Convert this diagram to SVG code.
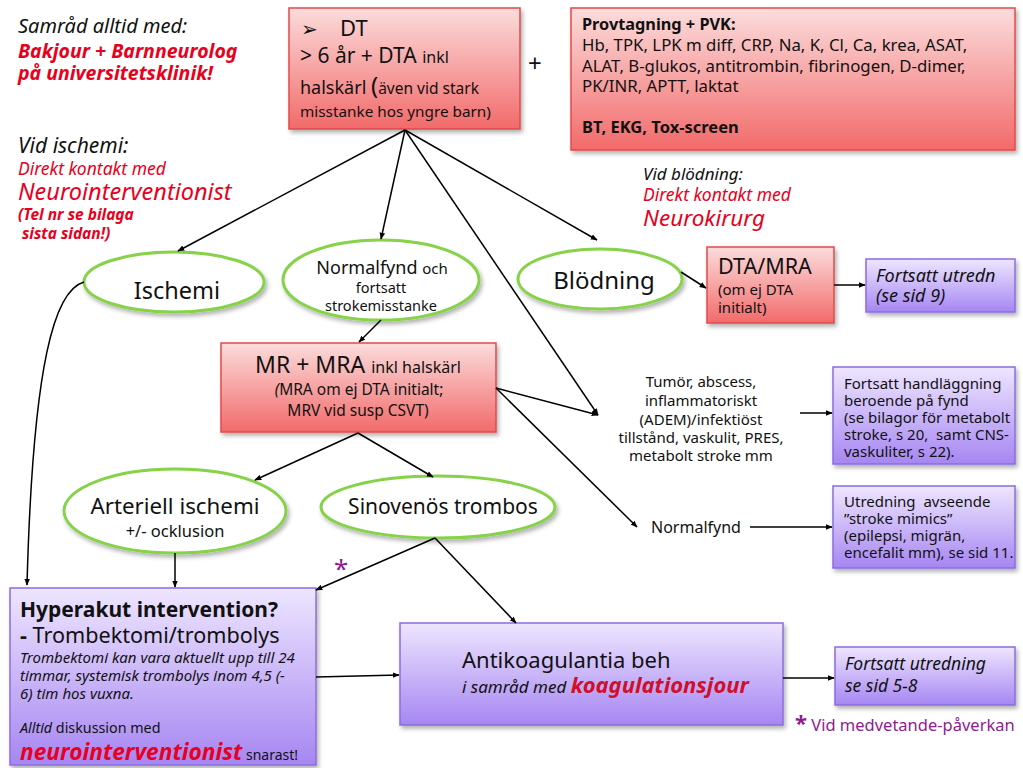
<svg xmlns="http://www.w3.org/2000/svg" width="1023" height="768" viewBox="0 0 1023 768">
<style>
text{font-family:"Noto Sans","DejaVu Sans",sans-serif;fill:#111}
.red{fill:#e8001c}
.it{font-style:italic}
.b{font-weight:bold}
.rbox{fill:url(#rg);stroke:#e2494a;stroke-width:1.5;filter:url(#sh)}
.pbox{fill:url(#pg);stroke:#8a6ce0;stroke-width:1.5;filter:url(#sh)}
.ell{fill:#fff;stroke:#86d24a;stroke-width:3;filter:url(#sh)}
.c line,.c path{stroke:#000;stroke-width:1.5;fill:none;marker-end:url(#ah)}
.mid{text-anchor:middle}
.pur{fill:#8e1b8e}
.bx{font-size:15px}
</style>
<defs>
<linearGradient id="rg" x1="0" y1="0" x2="0" y2="1"><stop offset="0" stop-color="#fcdcdc"/><stop offset="1" stop-color="#f26a6a"/></linearGradient>
<linearGradient id="pg" x1="0" y1="0" x2="0" y2="1"><stop offset="0" stop-color="#eee6ff"/><stop offset="1" stop-color="#a686f2"/></linearGradient>
<filter id="sh" x="-10%" y="-10%" width="125%" height="130%"><feDropShadow dx="2" dy="3" stdDeviation="2" flood-color="#000" flood-opacity="0.3"/></filter>
<marker id="ah" viewBox="0 0 10 10" refX="9" refY="5" markerWidth="7" markerHeight="7" orient="auto" markerUnits="userSpaceOnUse"><path d="M0,1 L10,5 L0,9 z" fill="#000"/></marker>
</defs>
<rect width="1023" height="768" fill="#fff"/>

<g id="notes-left">
<text x="18" y="33" class="it" font-size="20">Samråd alltid med:</text>
<text x="18" y="58" class="it b red" font-size="19.5">Bakjour + Barnneurolog</text>
<text x="18" y="80" class="it b red" font-size="19.5">på universitetsklinik!</text>
<text x="18" y="153" class="it" font-size="21">Vid ischemi:</text>
<text x="18" y="175" class="it red" font-size="17.5">Direkt kontakt med</text>
<text x="18" y="200" class="it red" font-size="23.5">Neurointerventionist</text>
<text x="18" y="220" class="it b red" font-size="15.5">(Tel nr se bilaga</text>
<text x="22" y="239" class="it b red" font-size="15.5">sista sidan!)</text>
</g>

<g id="node-dt">
<rect class="rbox" x="289" y="8" width="231" height="121"/>
<text x="301" y="36" font-size="20">➢</text>
<text x="340" y="36" font-size="22">DT</text>
<text x="300" y="63" font-size="21">&gt; 6 år + DTA <tspan font-size="16">inkl</tspan></text>
<text x="300" y="94" font-size="18">halskärl <tspan font-size="24">(</tspan><tspan font-size="15.5">även vid stark</tspan></text>
<text x="300" y="117" font-size="15.3">misstanke hos yngre barn)</text>
</g>

<text x="528" y="72" font-size="24">+</text>

<g id="node-prov">
<rect class="rbox" x="571" y="8" width="444" height="142"/>
<text x="582" y="30" font-size="16.3" class="b">Provtagning + PVK:</text>
<text x="582" y="51" font-size="16.8">Hb, TPK, LPK m diff, CRP, Na, K, Cl, Ca, krea, ASAT,</text>
<text x="582" y="72" font-size="16.8">ALAT, B-glukos, antitrombin, fibrinogen, D-dimer,</text>
<text x="582" y="92" font-size="16.8">PK/INR, APTT, laktat</text>
<text x="582" y="133" font-size="16.5" class="b">BT, EKG, Tox-screen</text>
</g>

<g id="notes-bleed">
<text x="643" y="180" class="it" font-size="17">Vid blödning:</text>
<text x="643" y="201" class="it red" font-size="17.5">Direkt kontakt med</text>
<text x="643" y="226" class="it red" font-size="22.5">Neurokirurg</text>
</g>

<g id="node-ischemi">
<ellipse class="ell" cx="174" cy="282" rx="90" ry="30"/>
<text x="177" y="299" class="mid" font-size="23.5">Ischemi</text>
</g>

<g id="node-normalfynd1">
<ellipse class="ell" cx="381" cy="280" rx="98" ry="40"/>
<text x="382" y="274" class="mid" font-size="18">Normalfynd <tspan font-size="15">och</tspan></text>
<text x="381" y="293" class="mid" font-size="14.5">fortsatt</text>
<text x="381" y="311" class="mid" font-size="14.5">strokemisstanke</text>
</g>

<g id="node-blodning">
<ellipse class="ell" cx="600" cy="279" rx="82" ry="30"/>
<text x="604" y="289" class="mid" font-size="24">Blödning</text>
</g>

<g id="node-dtamra">
<rect class="rbox" x="707" y="247" width="127" height="76"/>
<text x="718" y="274" font-size="21.5">DTA/MRA</text>
<text x="718" y="295" font-size="15">(om ej DTA</text>
<text x="718" y="313" font-size="15">initialt)</text>
</g>

<g id="node-fortsatt9">
<rect class="pbox" x="866" y="259" width="149" height="53"/>
<text x="876" y="282" class="it" font-size="18">Fortsatt utredn</text>
<text x="876" y="302" class="it" font-size="18">(se sid 9)</text>
</g>

<g id="node-mr">
<rect class="rbox" x="221" y="343" width="275" height="89"/>
<text x="358" y="373" class="mid" font-size="23">MR + MRA <tspan font-size="16">inkl halskärl</tspan></text>
<text x="359" y="395" class="mid" font-size="15.5"><tspan class="it">(</tspan>MRA om ej DTA initialt;</text>
<text x="358" y="416" class="mid" font-size="15.5">MRV vid susp CSVT)</text>
</g>

<g id="node-tumor">
<text x="701" y="387" class="mid" font-size="15">Tumör, abscess,</text>
<text x="701" y="406" class="mid" font-size="15">inflammatoriskt</text>
<text x="701" y="425" class="mid" font-size="15">(ADEM)/infektiöst</text>
<text x="701" y="443" class="mid" font-size="15">tillstånd, vaskulit, PRES,</text>
<text x="701" y="461" class="mid" font-size="15">metabolt stroke mm</text>
</g>

<g id="node-handlaggning">
<rect class="pbox" x="833" y="367" width="182" height="97"/>
<text x="844" y="389" class="bx">Fortsatt handläggning</text>
<text x="844" y="406" class="bx">beroende på fynd</text>
<text x="844" y="423" class="bx">(se bilagor för metabolt</text>
<text x="844" y="440" class="bx">stroke, s 20,&#160; samt CNS-</text>
<text x="844" y="457" class="bx">vaskuliter, s 22).</text>
</g>

<g id="node-normalfynd2">
<text x="651" y="533" font-size="16">Normalfynd</text>
</g>

<g id="node-mimics">
<rect class="pbox" x="833" y="486" width="182" height="82"/>
<text x="844" y="507" class="bx">Utredning&#160; avseende</text>
<text x="844" y="524" class="bx">”stroke mimics”</text>
<text x="844" y="541" class="bx">(epilepsi, migrän,</text>
<text x="844" y="558" class="bx">encefalit mm), se sid 11.</text>
</g>

<g id="node-arteriell">
<ellipse class="ell" cx="175" cy="511" rx="111" ry="42"/>
<text x="175" y="514" class="mid" font-size="22.3">Arteriell ischemi</text>
<text x="175" y="537" class="mid" font-size="16.5">+/- ocklusion</text>
</g>

<g id="node-sinovenos">
<ellipse class="ell" cx="438" cy="507" rx="117" ry="31"/>
<text x="443" y="514" class="mid" font-size="21">Sinovenös trombos</text>
</g>

<text x="334" y="578" font-size="26" class="pur">*</text>

<g id="node-hyperakut">
<rect class="pbox" x="10" y="588" width="306" height="177"/>
<text x="20" y="617" class="b" font-size="21">Hyperakut intervention?</text>
<text x="20" y="643" font-size="21.6"><tspan class="b">-</tspan> Trombektomi/trombolys</text>
<text x="20" y="663" class="it" font-size="15">Trombektomi kan vara aktuellt upp till 24</text>
<text x="20" y="681" class="it" font-size="15">timmar, systemisk trombolys inom 4,5 (-</text>
<text x="20" y="699" class="it" font-size="15">6) tim hos vuxna.</text>
<text x="20" y="733" font-size="14.3"><tspan class="it">Alltid</tspan> diskussion med</text>
<text x="20" y="760" font-size="14"><tspan class="it b red" font-size="22.7">neurointerventionist</tspan> snarast!</text>
</g>

<g id="node-antikoag">
<rect class="pbox" x="400" y="623" width="383" height="102"/>
<text x="462" y="668" font-size="22">Antikoagulantia beh</text>
<text x="462" y="693" class="it" font-size="17">i samråd med <tspan class="b" font-size="22" fill="#d0102a">koagulationsjour</tspan></text>
</g>

<g id="node-fortsatt58">
<rect class="pbox" x="835" y="647" width="180" height="58"/>
<text x="845" y="670" class="it" font-size="17.5">Fortsatt utredning</text>
<text x="845" y="692" class="it" font-size="17.5">se sid 5-8</text>
</g>

<text x="795" y="731" font-size="16.5" class="pur"><tspan font-size="22" font-weight="bold">*</tspan> Vid medvetande-påverkan</text>

<g id="connectors" class="c">
<line x1="405" y1="130" x2="178" y2="251"/>
<line x1="405" y1="130" x2="381" y2="239"/>
<line x1="405" y1="130" x2="597" y2="240"/>
<line x1="405" y1="130" x2="598" y2="415"/>
<line x1="496" y1="388" x2="598" y2="415"/>
<line x1="496" y1="388" x2="637" y2="527"/>
<line x1="381" y1="320" x2="359" y2="342"/>
<line x1="358" y1="433" x2="255" y2="480"/>
<line x1="358" y1="433" x2="433" y2="477"/>
<path d="M84,282 C55,290 33,360 27,585"/>
<line x1="175" y1="553" x2="175" y2="587"/>
<line x1="435" y1="538" x2="316" y2="590"/>
<line x1="435" y1="538" x2="516" y2="623"/>
<line x1="316" y1="677" x2="399" y2="675"/>
<line x1="681" y1="272" x2="706" y2="288"/>
<line x1="834" y1="285" x2="865" y2="285"/>
<line x1="800" y1="413" x2="832" y2="413"/>
<line x1="750" y1="527" x2="832" y2="527"/>
<line x1="783" y1="678" x2="834" y2="678"/>
</g>
</svg>
